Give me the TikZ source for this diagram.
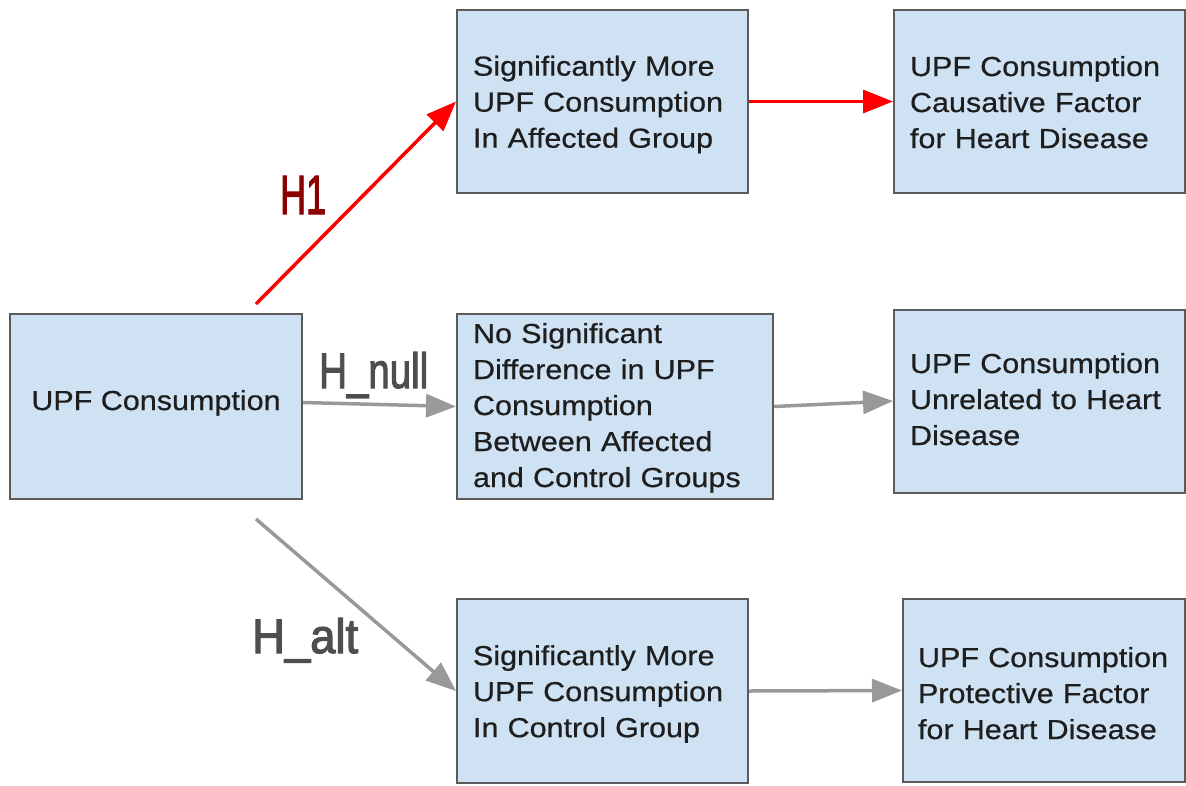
\documentclass[tikz,border=0pt]{standalone}
\usepackage{fontspec}
\usepackage{graphicx}
\setmainfont[FakeStretch=1.11,FakeBold=0.6]{Liberation Sans}
\newfontfamily\labelfont[FakeBold=2.5]{Liberation Sans}
\usetikzlibrary{arrows.meta}

\definecolor{boxfill}{HTML}{CFE2F3}
\definecolor{boxline}{HTML}{5B5B5B}
\definecolor{boxtext}{HTML}{1E1E1E}
\definecolor{linkgray}{HTML}{999999}
\definecolor{linkred}{HTML}{FF0000}
\definecolor{labelred}{HTML}{8B0000}
\definecolor{labelgray}{HTML}{4E4E4E}

% fixed line box: height of the first line, depth of the last one
\tikzset{
  box/.style={draw=boxline, fill=boxfill, line width=2pt, rectangle,
    inner xsep=16pt, inner ysep=0pt, align=left, text=boxtext,
    font=\fontsize{27.5}{36}\selectfont},
  lead/.style={execute at begin node={\rule{0pt}{26pt}},
    execute at end node={\rule[-#1pt]{0pt}{#1pt}}},
  link/.style={line width=3.5pt, -{Triangle[length=30pt,width=23pt]}},
  graylink/.style={link, draw=linkgray, fill=linkgray},
  redlink/.style={link, draw=linkred, fill=linkred},
  hyplabel/.style={inner sep=0pt, anchor=base west, font=\labelfont}
}

\begin{document}
\begin{tikzpicture}[x=1pt, y=-1pt]
\useasboundingbox (0,0) rectangle (1186,785);

% source box
\node[box, lead=19, align=center, minimum width=292pt, minimum height=185pt]
  (upf) at (156,406.5) {UPF Consumption};

% observations
\node[box, lead=5, text width=259pt, minimum width=291pt, minimum height=183pt]
  (sigA) at (602.5,101.5) {Significantly More\\UPF Consumption\\In Affected Group};
\node[box, lead=9, text width=284pt, minimum width=316pt, minimum height=185pt]
  (nodiff) at (615,406.5) {No Significant\\Difference in UPF\\Consumption\\Between Affected\\and Control Groups};
\node[box, lead=2, text width=259pt, minimum width=291pt, minimum height=184pt]
  (sigC) at (602.5,691) {Significantly More\\UPF Consumption\\In Control Group};

% conclusions
\node[box, lead=5, text width=259pt, minimum width=291pt, minimum height=183pt]
  (cause) at (1039.5,101.5) {UPF Consumption\\Causative Factor\\for Heart Disease};
\node[box, lead=10, text width=259pt, minimum width=291pt, minimum height=183pt]
  (unrel) at (1039.5,401) {UPF Consumption\\Unrelated to Heart\\Disease};
\node[box, lead=1, inner xsep=15pt, text width=252pt, minimum width=282pt, minimum height=183pt]
  (prot) at (1044,690.5) {UPF Consumption\\Protective Factor\\for Heart Disease};

% hypothesis branches
\draw[redlink] ([shift={(-47pt,9pt)}]upf.north east) -- (sigA.west);
\draw[redlink] (sigA.east) -- (cause.west);
\draw[graylink] ([yshift=4pt]upf.east) -- (nodiff.west);
\draw[graylink] (nodiff.east) -- (unrel.west);
\draw[graylink] ([shift={(-47pt,-19pt)}]upf.south east) -- (sigC.west);
\draw[graylink] (sigC.east) -- (prot.west);

% branch labels
\node[hyplabel, text=labelred] (lblH1) at (280,214)
  {\resizebox{46pt}{38pt}{H1}};
\node[hyplabel, text=labelgray] (lblHnull) at (319,388)
  {\resizebox{109pt}{36pt}{H\_null}};
\node[hyplabel, text=labelgray] (lblHalt) at (252,653)
  {\resizebox{106pt}{35pt}{H\_alt}};
\end{tikzpicture}
\end{document}
